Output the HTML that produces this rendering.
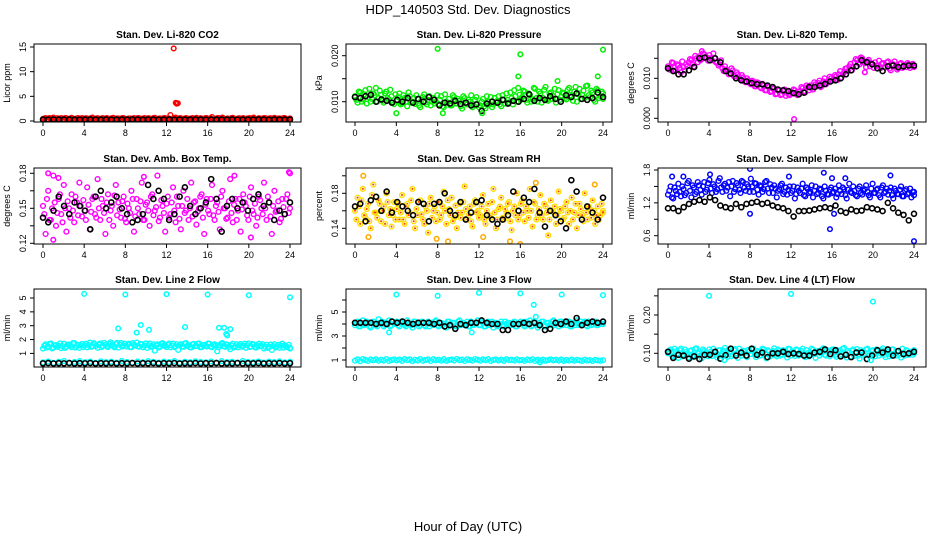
<!DOCTYPE html>
<html><head><meta charset="utf-8"><style>
body{margin:0;background:#fff;}
svg{display:block;font-family:"Liberation Sans",sans-serif;}
</style></head><body>
<svg id="chart" width="936" height="540" viewBox="0 0 936 540" xmlns="http://www.w3.org/2000/svg">
<text x="468" y="14" text-anchor="middle" font-size="13">HDP_140503  Std. Dev. Diagnostics</text>
<text x="468" y="531" text-anchor="middle" font-size="13">Hour of Day (UTC)</text>
</svg>
<script>
const hourTicks=[0,4,8,12,16,20,24];
// P1 CO2
const p1Red=[0.4,0.6,0.3,0.5,0.7,0.35,0.45,0.6,0.3,0.55,0.4,0.65,0.3,0.5,0.45,0.6,0.35,0.5,0.4,0.7,0.3,0.55,0.45,0.6,0.35,0.5,0.4,0.65,0.3,0.5,0.45,0.6,0.35,0.5,0.4,0.6,0.3,0.55,0.45,0.6,0.35,0.5,0.4,0.65,0.3,0.5,0.45,0.6,0.4,1.2,0.5,0.7,0.35,0.55,0.45,0.6,0.35,0.5,0.4,0.65,0.3,0.5,0.45,0.6,0.4,0.8,0.3,0.55,0.5,0.7,0.35,0.5,0.4,0.65,0.3,0.5,0.45,0.6,0.35,0.5,0.4,0.7,0.3,0.55,0.45,0.6,0.35,0.5,0.4,0.65,0.3,0.5,0.45,0.6,0.35,0.4];
const p1Red2=[0.5,0.3,0.6,0.4,0.3,0.55,0.4,0.3,0.6,0.35,0.5,0.3,0.45,0.6,0.35,0.4,0.55,0.3,0.6,0.4,0.5,0.35,0.3,0.45,0.6,0.4,0.55,0.3,0.5,0.35,0.6,0.4,0.3,0.5,0.45,0.35,0.6,0.4,0.3,0.5,0.55,0.35,0.6,0.3,0.45,0.4,0.6,0.35,0.5,0.3,0.6,0.4,0.55,0.35,0.3,0.5,0.45,0.6,0.3,0.4,0.55,0.35,0.6,0.4,0.5,0.3,0.45,0.6,0.35,0.5,0.4,0.3,0.6,0.45,0.35,0.55,0.4,0.3,0.5,0.6,0.35,0.45,0.3,0.5,0.4,0.6,0.35,0.55,0.3,0.45,0.5,0.4,0.6,0.35,0.3,0.5];
const p1Black=[0.3,0.28,0.32,0.3,0.29,0.31,0.3,0.28,0.3,0.32,0.29,0.3,0.31,0.28,0.3,0.3,0.29,0.31,0.3,0.28,0.32,0.3,0.29,0.3,0.31,0.28,0.3,0.3,0.29,0.31,0.3,0.28,0.32,0.3,0.29,0.3,0.31,0.28,0.3,0.3,0.29,0.31,0.3,0.28,0.32,0.3,0.29,0.3];
const p1OutX=[12.7,12.9,13.0,13.1];
const p1OutY=[14.7,3.7,3.5,3.6];
// P2 Pressure
const p2Green=[.0112,.0098,.0120,.0105,.0125,.0110,.0100,.0118,.0130,.0108,.0115,.0098,.0122,.0105,.0112,.0095,
.0102,.0118,.0096,.0108,.0090,.0112,.0100,.0095,.0106,.0088,.0110,.0098,.0104,.0092,.0108,.0100,
.0095,.0112,.0088,.0100,.0106,.0092,.0110,.0096,.0102,.0085,.0108,.0094,.0100,.0088,.0104,.0096,
.0092,.0106,.0086,.0100,.0110,.0094,.0098,.0112,.0090,.0104,.0118,.0098,.0108,.0125,.0100,.0115,
.0110,.0122,.0098,.0115,.0105,.0128,.0100,.0118,.0108,.0132,.0102,.0120,.0112,.0098,.0125,.0110,
.0118,.0105,.0130,.0112,.0122,.0100,.0128,.0115,.0108,.0135,.0110,.0120,.0100,.0125,.0112,.0118];
const p2Green2=[.0104,.0122,.0100,.0116,.0096,.0128,.0106,.0114,.0100,.0124,.0102,.0118,.0108,.0126,.0098,.0116,
.0110,.0094,.0114,.0100,.0120,.0098,.0108,.0114,.0092,.0104,.0116,.0094,.0112,.0100,.0096,.0114,
.0104,.0090,.0116,.0098,.0092,.0114,.0096,.0106,.0090,.0112,.0096,.0104,.0114,.0092,.0110,.0088,
.0100,.0090,.0112,.0094,.0088,.0108,.0102,.0094,.0114,.0096,.0104,.0120,.0094,.0112,.0130,.0104,
.0124,.0104,.0118,.0100,.0130,.0108,.0122,.0098,.0126,.0104,.0118,.0106,.0128,.0116,.0104,.0120,
.0108,.0126,.0114,.0102,.0132,.0116,.0106,.0124,.0134,.0114,.0124,.0104,.0128,.0108,.0122,.0106];
const p2Black=[.0110,.0108,.0112,.0115,.0100,.0105,.0102,.0098,.0104,.0100,.0108,.0098,.0106,.0100,.0110,.0104,.0092,.0098,.0096,.0102,.0095,.0098,.0092,.0094,.0080,.0096,.0100,.0098,.0104,.0096,.0102,.0100,.0106,.0116,.0102,.0108,.0104,.0112,.0106,.0100,.0114,.0110,.0118,.0106,.0104,.0108,.0120,.0110];
const p2OutX=[8,16,24,15.8,19.6,23.5,4,8.5,12.3];
const p2OutY=[.0215,.0203,.0213,.0155,.0145,.0155,.0075,.0075,.0075];
// P3 Temp
const p3Mag=[.0130,.0125,.0138,.0120,.0132,.0115,.0128,.0135,.0140,.0145,.0130,.0150,.0155,.0148,.0160,.0152,
.0158,.0145,.0150,.0140,.0135,.0125,.0130,.0118,.0112,.0120,.0105,.0110,.0098,.0102,.0090,.0095,
.0085,.0092,.0080,.0088,.0075,.0082,.0070,.0078,.0068,.0075,.0062,.0070,.0060,.0072,.0065,.0058,
.0062,.0070,.0058,.0068,.0075,.0065,.0078,.0082,.0072,.0085,.0088,.0078,.0092,.0085,.0095,.0100,
.0098,.0105,.0110,.0102,.0115,.0125,.0130,.0120,.0140,.0145,.0135,.0150,.0138,.0142,.0130,.0135,
.0140,.0132,.0125,.0138,.0128,.0142,.0120,.0135,.0130,.0125,.0138,.0130,.0128,.0135,.0132,.0130];
const p3Mag2=[.0122,.0140,.0118,.0135,.0126,.0142,.0120,.0130,.0148,.0136,.0156,.0140,.0145,.0162,.0150,.0144,
.0150,.0162,.0140,.0132,.0145,.0118,.0122,.0110,.0125,.0105,.0115,.0100,.0108,.0092,.0100,.0088,
.0094,.0080,.0090,.0078,.0086,.0070,.0080,.0066,.0074,.0060,.0072,.0058,.0068,.0056,.0060,.0066,
.0072,.0060,.0066,.0078,.0068,.0082,.0070,.0076,.0090,.0080,.0094,.0082,.0100,.0090,.0104,.0094,
.0108,.0096,.0118,.0110,.0124,.0118,.0136,.0128,.0148,.0138,.0152,.0142,.0128,.0146,.0138,.0126,
.0132,.0144,.0136,.0128,.0140,.0124,.0134,.0142,.0122,.0136,.0126,.0134,.0138,.0126,.0136,.0128];
const p3Black=[.0125,.0118,.0110,.0110,.0120,.0128,.0150,.0152,.0145,.0150,.0140,.0118,.0112,.0100,.0095,.0092,.0088,.0085,.0085,.0082,.0078,.0072,.0070,.0068,.0063,.0060,.0064,.0078,.0078,.0082,.0086,.0092,.0095,.0100,.0110,.0120,.0130,.0145,.0140,.0135,.0125,.0118,.0130,.0132,.0128,.0130,.0132,.0132];
const p3OutX=[12.3,3.3,19.2];
const p3OutY=[-0.0002,.0168,.0115];
// P4 Amb box temp
const p4Mag=[.152,.128,.165,.140,.178,.135,.158,.145,.170,.130,.150,.162,.138,.155,.172,.143,
.148,.168,.132,.158,.145,.175,.140,.152,.128,.162,.148,.135,.170,.155,.142,.160,
.138,.150,.165,.130,.158,.145,.172,.140,.155,.135,.162,.148,.178,.142,.152,.130,
.160,.145,.168,.138,.152,.132,.165,.148,.140,.172,.155,.136,.150,.162,.128,.158,
.145,.170,.140,.155,.132,.165,.150,.142,.175,.138,.158,.148,.130,.162,.152,.140,
.168,.145,.135,.160,.150,.172,.140,.155,.128,.165,.148,.138,.158,.145,.162,.180];
const p4Mag2=[.145,.158,.140,.150,.155,.146,.162,.138,.150,.156,.142,.148,.160,.144,.152,.157,
.140,.153,.147,.160,.142,.150,.158,.146,.155,.140,.152,.161,.144,.149,.156,.141,
.154,.146,.158,.143,.150,.156,.140,.153,.148,.160,.144,.151,.139,.157,.146,.154,
.142,.155,.148,.160,.141,.152,.146,.158,.150,.143,.156,.147,.160,.142,.153,.148,
.158,.144,.152,.147,.160,.150,.141,.156,.146,.153,.140,.158,.149,.155,.144,.160,
.148,.154,.142,.157,.145,.150,.160,.143,.152,.147,.156,.141,.151,.158,.146,.150];
const p4Black=[.142,.138,.148,.160,.152,.145,.155,.152,.148,.132,.160,.165,.150,.155,.160,.150,.145,.138,.140,.145,.170,.158,.165,.158,.140,.145,.160,.168,.152,.145,.150,.155,.175,.158,.130,.152,.158,.150,.155,.148,.158,.162,.152,.155,.140,.148,.145,.155];
const p4OutX=[0.5,1.0,1.5,9.8,18.6,20.2,23.9];
const p4OutY=[.180,.123,.176,.177,.178,.125,.181];
// P5 Gas stream RH
const p5Yel=[.160,.175,.145,.185,.152,.168,.140,.190,.158,.172,.148,.165,.180,.155,.142,.170,
.162,.150,.178,.145,.168,.158,.185,.140,.155,.172,.150,.165,.135,.175,.160,.148,
.170,.155,.182,.145,.162,.175,.152,.140,.168,.158,.188,.150,.165,.142,.172,.160,
.155,.178,.145,.168,.152,.185,.140,.162,.175,.150,.158,.170,.138,.165,.180,.155,
.172,.148,.160,.185,.142,.168,.155,.178,.150,.165,.132,.172,.158,.145,.182,.160,
.152,.170,.145,.175,.158,.140,.168,.155,.180,.150,.162,.172,.145,.165,.155,.160];
const p5Yel2=[.150,.165,.172,.155,.162,.148,.178,.158,.152,.168,.160,.145,.170,.162,.155,.150,
.168,.158,.150,.165,.155,.172,.148,.162,.170,.156,.145,.160,.168,.152,.165,.158,
.150,.165,.160,.172,.155,.148,.166,.158,.152,.170,.162,.155,.148,.168,.158,.152,
.165,.150,.160,.155,.170,.158,.150,.165,.152,.162,.168,.148,.160,.155,.150,.168,
.158,.165,.152,.160,.170,.150,.162,.155,.168,.158,.150,.160,.165,.155,.162,.150,
.165,.158,.160,.150,.168,.155,.162,.148,.158,.165,.152,.160,.155,.150,.168,.158];
const p5Black=[.165,.168,.148,.172,.176,.160,.182,.158,.170,.165,.160,.155,.170,.168,.148,.168,.170,.180,.160,.155,.170,.150,.158,.170,.172,.155,.150,.145,.150,.155,.182,.160,.175,.170,.185,.158,.142,.160,.155,.148,.140,.195,.182,.150,.165,.158,.150,.175];
const p5OutX=[0.8,1.3,7.9,9.0,12.4,15.0,16.0,17.5,23.2];
const p5OutY=[.200,.130,.128,.125,.130,.125,.122,.192,.190];
// P6 Sample flow
const p6Blue=[1.35,1.50,1.28,1.42,1.55,1.32,1.45,1.38,1.60,1.30,1.48,1.40,1.52,1.35,1.58,1.44,
1.62,1.38,1.50,1.45,1.65,1.40,1.55,1.48,1.32,1.60,1.45,1.52,1.38,1.58,1.42,1.50,
1.64,1.40,1.55,1.35,1.50,1.45,1.60,1.38,1.48,1.52,1.30,1.45,1.55,1.40,1.35,1.50,
1.42,1.28,1.48,1.38,1.55,1.32,1.45,1.40,1.30,1.50,1.38,1.44,1.28,1.42,1.35,1.48,
1.40,1.30,1.52,1.36,1.45,1.28,1.55,1.38,1.42,1.32,1.50,1.35,1.45,1.40,1.30,1.55,
1.38,1.46,1.30,1.52,1.40,1.35,1.48,1.28,1.42,1.36,1.50,1.32,1.45,1.38,1.30,1.40];
const p6Blue2=[1.42,1.30,1.48,1.36,1.40,1.50,1.34,1.56,1.42,1.52,1.36,1.58,1.44,1.50,1.40,1.56,
1.46,1.54,1.40,1.60,1.48,1.52,1.42,1.58,1.50,1.40,1.56,1.44,1.60,1.48,1.54,1.40,
1.50,1.56,1.44,1.52,1.40,1.58,1.46,1.54,1.38,1.46,1.42,1.52,1.36,1.48,1.44,1.38,
1.50,1.36,1.42,1.46,1.34,1.48,1.38,1.52,1.42,1.36,1.46,1.32,1.50,1.36,1.44,1.38,
1.46,1.36,1.42,1.48,1.34,1.44,1.40,1.50,1.34,1.46,1.38,1.42,1.52,1.34,1.46,1.38,
1.44,1.34,1.48,1.38,1.46,1.42,1.34,1.46,1.36,1.44,1.32,1.42,1.36,1.46,1.40,1.34];
const p6Black=[1.10,1.10,1.05,1.12,1.18,1.22,1.25,1.22,1.30,1.25,1.15,1.12,1.10,1.18,1.12,1.18,1.20,1.22,1.18,1.20,1.15,1.12,1.10,1.05,0.95,1.05,1.05,1.06,1.08,1.10,1.12,1.10,1.15,1.05,1.02,1.08,1.05,1.06,1.12,1.10,1.08,1.05,1.20,1.10,1.02,0.98,0.88,1.00];
const p6OutX=[8,15.2,21.7,15.8,24,8,16.2,4.1,0.4,1.5,11.8,16.0,17.3];
const p6OutY=[1.82,1.75,1.70,0.72,0.50,1.00,1.00,1.72,1.68,1.68,1.68,1.65,1.65];
// P7 Line 2 flow
const p7Cyan=[1.35,1.65,1.50,1.72,1.42,1.60,1.55,1.38,1.70,1.48,1.62,1.45,1.75,1.52,1.40,1.68,
1.58,1.44,1.78,1.50,1.66,1.40,1.72,1.55,1.62,1.46,1.80,1.52,1.68,1.42,1.75,1.58,
1.50,1.70,1.45,1.62,1.78,1.48,1.66,1.55,1.40,1.72,1.52,1.20,1.65,1.48,1.74,1.56,
1.62,1.44,1.70,1.52,1.25,1.66,1.48,1.74,1.58,1.42,1.68,1.55,1.72,1.46,1.62,1.50,
1.70,1.45,1.66,1.15,1.58,1.75,1.48,1.62,1.30,1.70,1.52,1.44,1.68,1.56,1.40,1.72,
1.50,1.64,1.42,1.70,1.55,1.35,1.62,1.48,1.25,1.66,1.52,1.40,1.70,1.58,1.45,1.35];
const p7Cyan2=[1.55,1.42,1.68,1.36,1.58,1.48,1.72,1.52,1.40,1.64,1.56,1.74,1.42,1.62,1.58,1.46,
1.70,1.60,1.48,1.74,1.56,1.64,1.46,1.76,1.50,1.70,1.58,1.44,1.76,1.62,1.50,1.70,
1.62,1.46,1.74,1.56,1.50,1.68,1.44,1.72,1.60,1.48,1.66,1.58,1.42,1.70,1.56,1.46,
1.72,1.58,1.46,1.66,1.60,1.50,1.72,1.54,1.44,1.66,1.52,1.70,1.44,1.60,1.54,1.72,
1.48,1.62,1.56,1.44,1.70,1.52,1.64,1.46,1.58,1.44,1.66,1.58,1.48,1.70,1.60,1.46,
1.68,1.44,1.58,1.52,1.66,1.48,1.40,1.64,1.54,1.44,1.62,1.56,1.42,1.50,1.62,1.40];
const p7CyanLow=[0.35,0.42,0.32,0.40,0.45,0.33,0.38,0.44,0.36,0.41,0.32,0.43,0.37,0.40,0.34,0.45,0.38,0.33,0.42,0.36,0.44,0.39,0.34,0.41,0.37,0.45,0.33,0.40,0.36,0.43,0.38,0.35,0.42,0.34,0.44,0.37,0.40,0.33,0.45,0.38,0.36,0.42,0.34,0.41,0.37,0.43,0.35,0.40];
const p7Black=[0.28,0.30,0.27,0.29,0.28,0.30,0.27,0.29,0.28,0.30,0.27,0.29,0.28,0.30,0.27,0.29,0.28,0.30,0.27,0.29,0.28,0.30,0.27,0.29,0.28,0.30,0.27,0.29,0.28,0.30,0.27,0.29,0.28,0.30,0.27,0.29,0.28,0.30,0.27,0.29,0.28,0.30,0.27,0.29,0.28,0.30,0.27,0.29];
const p7OutX=[4,8,12,16,20,24,7.3,9.1,9.5,10.3,13.8,17.1,17.6,17.8,18.2,17.9];
const p7OutY=[5.3,5.25,5.28,5.25,5.2,5.05,2.8,2.5,3.05,2.7,2.9,2.85,2.85,2.4,2.75,2.3];
// P8 Line 3 flow
const p8CyanHi=[3.9,4.2,3.8,4.3,4.0,4.1,3.7,4.2,3.9,4.4,4.0,3.8,4.1,4.3,3.9,4.0,
4.2,3.8,4.1,3.9,4.3,4.0,3.7,4.2,4.0,3.9,4.1,3.8,4.2,4.0,3.9,4.3,
3.8,4.1,4.0,3.7,4.2,3.9,4.1,3.8,4.3,4.0,3.9,4.2,3.8,4.1,4.0,4.3,
3.9,4.1,3.8,4.2,4.0,3.7,4.1,3.9,4.2,3.8,4.0,4.1,3.9,4.2,3.8,4.0,
4.1,3.8,4.0,4.3,3.9,4.1,3.7,4.0,4.2,3.8,4.1,3.9,4.3,4.0,3.8,4.2,
4.0,3.9,4.2,3.8,4.1,4.3,3.9,4.0,4.2,3.8,4.1,4.0,4.2,3.9,4.1,4.0];
const p8CyanHi2=[4.1,3.8,4.0,3.9,4.2,3.8,4.1,4.0,3.8,4.1,4.2,3.9,4.0,3.8,4.2,4.1,
3.9,4.2,4.0,3.8,4.1,3.9,4.2,4.0,3.8,4.2,3.9,4.1,3.8,4.1,4.2,3.9,
4.1,3.9,3.8,4.2,4.0,4.1,3.8,4.2,3.9,4.1,4.0,3.8,4.2,3.9,4.1,3.9,
4.2,3.8,4.0,3.9,4.2,4.1,3.8,4.0,3.9,4.2,4.1,3.9,4.1,3.8,4.0,4.2,
3.9,4.2,4.1,3.8,4.2,3.9,4.1,4.2,3.8,4.1,3.9,4.2,3.9,4.1,4.2,3.9,
4.1,4.2,3.8,4.1,3.9,4.0,4.2,4.1,3.9,4.2,3.9,4.2,3.9,4.1,4.0,4.2];
const p8CyanLo=[0.95,1.05,0.90,1.08,1.00,0.92,1.04,0.98,1.06,0.94,1.02,0.96,1.08,0.92,1.00,1.05,
0.97,1.03,0.93,1.07,0.99,1.05,0.91,1.02,0.96,1.08,0.94,1.00,1.04,0.92,1.06,0.98,
1.02,0.95,1.07,0.93,1.00,1.04,0.96,1.09,0.98,1.03,0.92,1.06,1.00,0.95,1.08,1.02,
0.94,1.05,0.98,1.07,0.92,1.01,1.04,0.96,1.03,0.93,1.06,0.99,1.02,0.95,1.05,0.97,
1.00,0.93,1.04,0.98,1.06,0.92,1.02,0.96,1.03,0.94,1.00,1.05,0.97,1.02,0.95,1.04,
0.92,1.00,0.96,1.03,0.94,1.01,0.97,0.93,1.02,0.95,0.99,0.92,1.01,0.96,0.94,0.98];
const p8Black=[4.1,4.1,4.1,4.1,4.0,4.1,4.0,4.2,4.1,4.2,4.1,4.0,4.1,4.1,4.1,4.0,4.1,3.8,3.9,3.6,4.0,3.9,4.1,4.1,4.3,4.1,4.0,4.0,3.5,3.5,4.0,4.0,4.1,4.0,4.1,3.9,3.5,3.6,4.1,4.0,4.2,4.0,4.5,3.9,4.1,4.2,4.1,4.2];
const p8OutX=[4,8,12,16,20,24,17.3,17.5,3.3,11.3,17.9];
const p8OutY=[6.45,6.35,6.6,6.55,6.45,6.4,5.6,4.6,3.3,3.3,0.8];
// P9 Line 4 flow
const p9Cyan=[.100,.110,.092,.105,.088,.112,.098,.104,.090,.108,.095,.113,.100,.087,.106,.097,
.110,.093,.102,.089,.108,.099,.114,.091,.104,.096,.111,.088,.101,.107,.094,.109,
.098,.112,.090,.103,.095,.110,.087,.105,.099,.113,.092,.106,.097,.102,.089,.111,
.104,.093,.108,.099,.112,.090,.101,.096,.109,.088,.106,.100,.113,.094,.103,.097,
.110,.091,.105,.098,.114,.089,.102,.107,.093,.111,.086,.104,.099,.112,.095,.108,
.092,.106,.100,.113,.090,.103,.097,.110,.094,.105,.089,.101,.108,.096,.104,.100];
const p9Cyan2=[.106,.094,.112,.098,.108,.092,.110,.096,.106,.090,.112,.100,.094,.110,.102,.092,
.104,.112,.096,.108,.094,.106,.098,.110,.092,.108,.100,.112,.094,.104,.090,.106,
.110,.096,.106,.094,.112,.098,.108,.092,.106,.096,.110,.094,.108,.098,.112,.094,
.098,.110,.094,.106,.096,.108,.092,.112,.098,.104,.094,.110,.096,.108,.092,.110,
.096,.108,.094,.112,.098,.106,.092,.110,.100,.094,.108,.096,.110,.094,.106,.098,
.110,.094,.108,.096,.106,.092,.110,.098,.104,.096,.112,.094,.106,.100,.096,.108];
const p9Black=[.104,.088,.096,.094,.086,.092,.085,.096,.096,.104,.086,.095,.112,.094,.102,.094,.112,.096,.102,.090,.100,.100,.104,.098,.100,.098,.094,.094,.102,.104,.110,.098,.108,.092,.096,.090,.102,.102,.085,.094,.108,.102,.110,.094,.106,.098,.100,.104];
const p9OutX=[4,12,20,5.5,19.8];
const p9OutY=[.250,.255,.235,.082,.082];

const svg=document.getElementById('chart');
const NS='http://www.w3.org/2000/svg';
function mk(tag,attrs,parent){const e=document.createElementNS(NS,tag);for(const k in attrs)e.setAttribute(k,attrs[k]);(parent||svg).appendChild(e);return e;}

const cols=[{l:34,r:301,x0:43,x24:290},{l:346,r:612,x0:355,x24:603},{l:658,r:926,x0:668,x24:914}];
const rows=[{t:44,b:122},{t:168,b:244},{t:289,b:367}];

function panel(id,ci,ri,title,ylab,v1,p1,v2,p2,ticks,labels){
  const c=cols[ci],r=rows[ri];
  const g=mk('g',{});
  
  
  const xs=h=>c.x0+(c.x24-c.x0)*h/24;
  const ys=v=>p1+(p2-p1)*(v-v1)/(v2-v1);
  const clip=mk('clipPath',{id:id+'clip'},g);
  mk('rect',{x:c.l,y:r.t,width:c.r-c.l,height:r.b-r.t},clip);
  const plot=mk('g',{'clip-path':'url(#'+id+'clip)'},g);
  
  
  const box=mk('rect',{x:c.l,y:r.t,width:c.r-c.l,height:r.b-r.t,fill:'none',stroke:'#000','stroke-width':1},g);
  
  
  const t=mk('text',{x:(c.l+c.r)/2,y:r.t-6,'text-anchor':'middle','font-size':10,'font-weight':'bold'},g);
  t.textContent=title;
  
  
  const yl=mk('text',{x:0,y:0,'text-anchor':'middle','font-size':9,transform:'translate('+(c.l-24)+','+((r.t+r.b)/2)+') rotate(-90)'},g);
  yl.textContent=ylab;
  
  
  hourTicks.forEach(h=>{
    mk('line',{x1:xs(h),x2:xs(h),y1:r.b,y2:r.b+4,stroke:'#000'},g);
    const tl=mk('text',{x:xs(h),y:r.b+14,'text-anchor':'middle','font-size':9},g);
    tl.textContent=String(h);
    
    
  });
  ticks.forEach((v,i)=>{
    const y=ys(v);
    mk('line',{x1:c.l-4,x2:c.l,y1:y,y2:y,stroke:'#000'},g);
    if(labels[i]){
      const tl=mk('text',{x:0,y:0,'text-anchor':'middle','font-size':9,transform:'translate('+(c.l-8)+','+y+') rotate(-90)'},g);
      tl.textContent=labels[i];
      
      
    }
  });
  return {plot,xs,ys};
}
function series(P,vals,color,rad,sw,name,inner,shift){
  const n=vals.length;
  const off=shift?12/(n-1):0;
  vals.forEach((v,i)=>{
    const h=Math.min(24,i*24/(n-1)+off);
    const c=mk('circle',{cx:P.xs(h),cy:P.ys(v),r:rad,fill:'none',stroke:color,'stroke-width':sw},P.plot);
    
    
    if(inner){mk('circle',{cx:P.xs(h),cy:P.ys(v),r:1,fill:inner},P.plot);}
  });
}
function outliers(P,xsArr,ysArr,color,name){
  xsArr.forEach((h,i)=>{
    const c=mk('circle',{cx:P.xs(h),cy:P.ys(ysArr[i]),r:2.3,fill:'none',stroke:color,'stroke-width':1.5},P.plot);
    
    
  });
}
const CR=2.4,CW=1.4,BR=2.5,BW=1.6;
let P;
P=panel('co2',0,0,'Stan. Dev. Li-820 CO2','Licor ppm',0,121,15,47,[0,5,10,15],['0','5','10','15']);
series(P,p1Red,'#ff0000',CR,CW,'co2-point');series(P,p1Red2,'#ff0000',CR,CW,'co2-point',null,true);series(P,p1Black,'#000',BR,BW,'co2-black-point');outliers(P,p1OutX,p1OutY,'#ff0000','co2-outlier');
P=panel('pressure',1,0,'Stan. Dev. Li-820 Pressure','kPa',0.010,101.7,0.020,55.7,[0.010,0.015,0.020],['0.010','','0.020']);
series(P,p2Green,'#00ee00',CR,CW,'pressure-point');series(P,p2Green2,'#00ee00',CR,CW,'pressure-point',null,true);series(P,p2Black,'#000',BR,BW,'pressure-black-point');outliers(P,p2OutX,p2OutY,'#00ee00','pressure-outlier');
P=panel('temp',2,0,'Stan. Dev. Li-820 Temp.','degrees C',0,118.3,0.015,58.3,[0,0.005,0.010,0.015],['0.000','','0.010','']);
series(P,p3Mag,'#ff00ff',CR,CW,'temp-point');series(P,p3Mag2,'#ff00ff',CR,CW,'temp-point',null,true);series(P,p3Black,'#000',BR,BW,'temp-black-point');outliers(P,p3OutX,p3OutY,'#ff00ff','temp-outlier');
P=panel('ambbox',0,1,'Stan. Dev. Amb. Box Temp.','degrees C',0.12,243.3,0.18,173.3,[0.12,0.135,0.15,0.165,0.18],['0.12','','0.15','','0.18']);
series(P,p4Mag,'#ff00ff',CR,CW,'ambbox-point');series(P,p4Mag2,'#ff00ff',CR,CW,'ambbox-point',null,true);series(P,p4Black,'#000',BR,BW,'ambbox-black-point');outliers(P,p4OutX,p4OutY,'#ff00ff','ambbox-outlier');
P=panel('rh',1,1,'Stan. Dev. Gas Stream RH','percent',0.14,228.3,0.18,193.3,[0.14,0.16,0.18,0.20],['0.14','','0.18','']);
series(P,p5Yel,'#ffdd00',CR,CW,'rh-point','#ff3300');series(P,p5Yel2,'#ffdd00',CR,CW,'rh-point','#ff3300',true);series(P,p5Black,'#000',BR,BW,'rh-black-point');outliers(P,p5OutX,p5OutY,'#ffaa00','rh-outlier');
P=panel('sampleflow',2,1,'Stan. Dev. Sample Flow','ml/min',0.6,235.7,1.8,170,[0.6,0.9,1.2,1.5,1.8],['0.6','','1.2','','1.8']);
series(P,p6Blue,'#0000ff',CR,CW,'sampleflow-point');series(P,p6Blue2,'#0000ff',CR,CW,'sampleflow-point',null,true);series(P,p6Black,'#000',BR,BW,'sampleflow-black-point');outliers(P,p6OutX,p6OutY,'#0000ff','sampleflow-outlier');
P=panel('line2',0,2,'Stan. Dev. Line 2 Flow','ml/min',1,353.4,5,298,[1,2,3,4,5],['1','2','3','4','5']);
series(P,p7Cyan,'#00ffff',CR,CW,'line2-point');series(P,p7Cyan2,'#00ffff',CR,CW,'line2-point',null,true);series(P,p7CyanLow,'#00ffff',CR,CW,'line2-low-point');series(P,p7Black,'#000',BR,BW,'line2-black-point');outliers(P,p7OutX,p7OutY,'#00ffff','line2-outlier');
P=panel('line3',1,2,'Stan. Dev. Line 3 Flow','ml/min',1,360,5,312,[1,2,3,4,5,6],['1','','3','','5','']);
series(P,p8CyanHi,'#00ffff',CR,CW,'line3-point');series(P,p8CyanHi2,'#00ffff',CR,CW,'line3-point',null,true);series(P,p8CyanLo,'#00ffff',CR,CW,'line3-low-point');series(P,p8Black,'#000',BR,BW,'line3-black-point');outliers(P,p8OutX,p8OutY,'#00ffff','line3-outlier');
P=panel('line4',2,2,'Stan. Dev. Line 4 (LT) Flow','ml/min',0.10,353.3,0.20,315,[0.10,0.15,0.20,0.25],['0.10','','0.20','']);
series(P,p9Cyan,'#00ffff',CR,CW,'line4-point');series(P,p9Cyan2,'#00ffff',CR,CW,'line4-point',null,true);series(P,p9Black,'#000',BR,BW,'line4-black-point');outliers(P,p9OutX,p9OutY,'#00ffff','line4-outlier');
</script>
</body></html>
